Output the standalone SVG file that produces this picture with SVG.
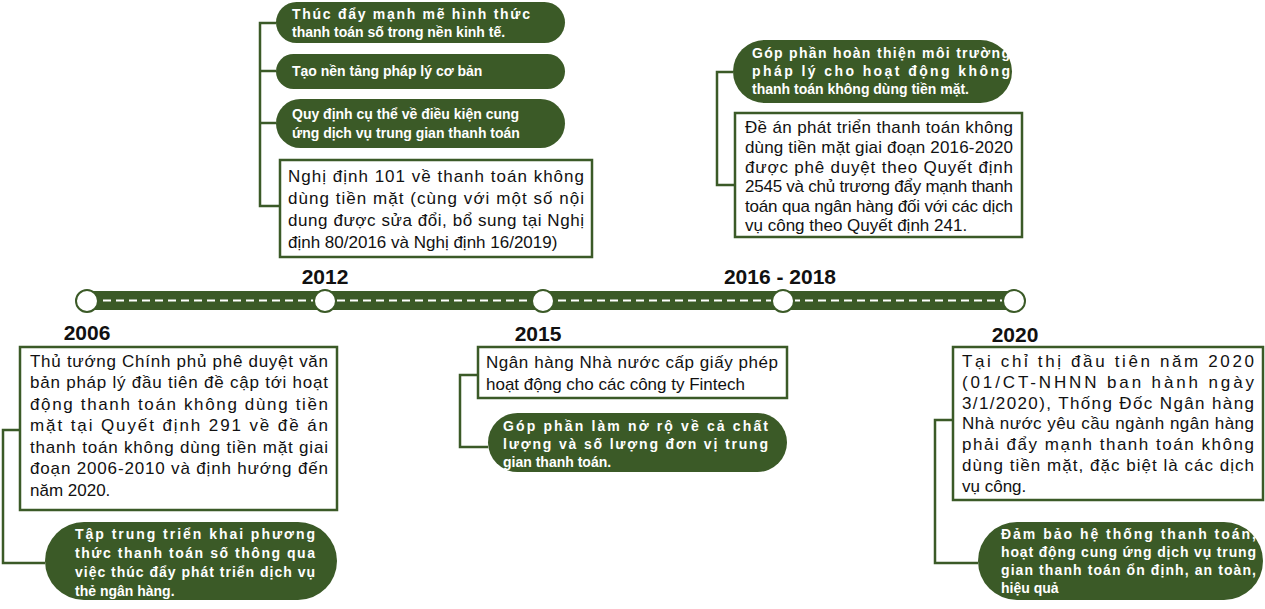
<svg xmlns="http://www.w3.org/2000/svg" width="1265" height="609" viewBox="0 0 1265 609">
<style>
.box{fill:#fff;stroke:#3b5a27;stroke-width:2.5}
.pill{fill:#3b5a27}
.t{font-family:"Liberation Sans",Arial,sans-serif;font-size:17px;fill:#111}
.p{font-family:"Liberation Sans",Arial,sans-serif;font-size:14px;font-weight:bold;fill:#fff}
.y{font-family:"Liberation Sans",Arial,sans-serif;font-size:21px;font-weight:bold;fill:#111;text-anchor:middle}
.c{fill:none;stroke:#3b5a27;stroke-width:2.5}
.dot{fill:#fff;stroke:#3b5a27;stroke-width:2}
</style>
<g id="timeline">
<rect x="85" y="291" width="930" height="19" fill="#3b5a27"/>
<line x1="90" y1="300.5" x2="1010" y2="300.5" stroke="#fff" stroke-width="2" stroke-dasharray="8,5"/>
<circle class="dot" cx="87" cy="301" r="11"/>
<circle class="dot" cx="325" cy="301" r="11"/>
<circle class="dot" cx="543" cy="301" r="11"/>
<circle class="dot" cx="783" cy="301" r="11"/>
<circle class="dot" cx="1014" cy="301" r="11"/>
<text class="y" x="325" y="284">2012</text>
<text class="y" x="87" y="340">2006</text>
<text class="y" x="538" y="341">2015</text>
<text class="y" x="780" y="284">2016 - 2018</text>
<text class="y" x="1015" y="342">2020</text>
</g>
<g id="connectors">
<polyline class="c" points="20,430 3,430 3,563 45,563"/>
<polyline class="c" points="276,23 260,23 260,206 280,206"/>
<line class="c" x1="260" y1="71" x2="276" y2="71"/>
<line class="c" x1="260" y1="123" x2="276" y2="123"/>
<polyline class="c" points="478,375 460,375 460,447 488,447"/>
<polyline class="c" points="733,72 717,72 717,185 735,185"/>
<polyline class="c" points="953,420 935,420 935,563 978,563"/>
</g>
<g id="n2006">
<rect class="box" x="20" y="347" width="317" height="163"/>
<text class="t"><tspan x="30" y="367" textLength="298" lengthAdjust="spacing">Thủ tướng Chính phủ phê duyệt văn</tspan><tspan x="30" y="388" textLength="298" lengthAdjust="spacing">bản pháp lý đầu tiên đề cập tới hoạt</tspan><tspan x="30" y="410" textLength="298" lengthAdjust="spacing">động thanh toán không dùng tiền</tspan><tspan x="30" y="431" textLength="298" lengthAdjust="spacing">mặt tại Quyết định 291 về đề án</tspan><tspan x="30" y="453" textLength="298" lengthAdjust="spacing">thanh toán không dùng tiền mặt giai</tspan><tspan x="30" y="474" textLength="298" lengthAdjust="spacing">đoạn 2006-2010 và định hướng đến</tspan><tspan x="30" y="496">năm 2020.</tspan></text>
</g>
<g id="n2006b">
<rect class="pill" x="45" y="522" width="292" height="78" rx="39"/>
<text class="p"><tspan x="75" y="539" textLength="240" lengthAdjust="spacing">Tập trung triển khai phương</tspan><tspan x="75" y="558" textLength="240" lengthAdjust="spacing">thức thanh toán số thông qua</tspan><tspan x="75" y="577" textLength="240" lengthAdjust="spacing">việc thúc đẩy phát triển dịch vụ</tspan><tspan x="75" y="596">thẻ ngân hàng.</tspan></text>
</g>
<g id="n2012a">
<rect class="pill" x="276" y="2" width="289" height="41" rx="20.5"/>
<text class="p"><tspan x="292" y="19" textLength="238" lengthAdjust="spacing">Thúc đẩy mạnh mẽ hình thức</tspan><tspan x="292" y="37">thanh toán số trong nền kinh tế.</tspan></text>
</g>
<g id="n2012b">
<rect class="pill" x="276" y="54" width="289" height="35" rx="17.5"/>
<text class="p" x="292" y="76">Tạo nền tảng pháp lý cơ bản</text>
</g>
<g id="n2012c">
<rect class="pill" x="276" y="99" width="289" height="49" rx="24.5"/>
<text class="p"><tspan x="292" y="119">Quy định cụ thể về điều kiện cung</tspan><tspan x="292" y="138">ứng dịch vụ trung gian thanh toán</tspan></text>
</g>
<g id="n2012d">
<rect class="box" x="280" y="160" width="312" height="97"/>
<text class="t"><tspan x="288" y="182" textLength="296" lengthAdjust="spacing">Nghị định 101 về thanh toán không</tspan><tspan x="288" y="204" textLength="296" lengthAdjust="spacing">dùng tiền mặt (cùng với một số nội</tspan><tspan x="288" y="226" textLength="296" lengthAdjust="spacing">dung được sửa đổi, bổ sung tại Nghị</tspan><tspan x="288" y="248">định 80/2016 và Nghị định 16/2019)</tspan></text>
</g>
<g id="n2015a">
<rect class="box" x="478" y="347" width="309" height="51"/>
<text class="t"><tspan x="486" y="368" textLength="292" lengthAdjust="spacing">Ngân hàng Nhà nước cấp giấy phép</tspan><tspan x="486" y="390">hoạt động cho các công ty Fintech</tspan></text>
</g>
<g id="n2015b">
<rect class="pill" x="488" y="413" width="299" height="59" rx="29.5"/>
<text class="p"><tspan x="503" y="431" textLength="265" lengthAdjust="spacing">Góp phần làm nở rộ về cả chất</tspan><tspan x="503" y="449" textLength="265" lengthAdjust="spacing">lượng và số lượng đơn vị trung</tspan><tspan x="503" y="467">gian thanh toán.</tspan></text>
</g>
<g id="n2016a">
<rect class="pill" x="733" y="40" width="279" height="63" rx="31.5"/>
<text class="p"><tspan x="752" y="58" textLength="258" lengthAdjust="spacing">Góp phần hoàn thiện môi trường</tspan><tspan x="752" y="76" textLength="258" lengthAdjust="spacing">pháp lý cho hoạt động không</tspan><tspan x="752" y="94">thanh toán không dùng tiền mặt.</tspan></text>
</g>
<g id="n2016b">
<rect class="box" x="735" y="113" width="287" height="124"/>
<text class="t"><tspan x="745" y="133" textLength="268" lengthAdjust="spacing">Đề án phát triển thanh toán không</tspan><tspan x="745" y="153" textLength="268" lengthAdjust="spacing">dùng tiền mặt giai đoạn 2016-2020</tspan><tspan x="745" y="173" textLength="268" lengthAdjust="spacing">được phê duyệt theo Quyết định</tspan><tspan x="745" y="192" textLength="268" lengthAdjust="spacing">2545 và chủ trương đẩy mạnh thanh</tspan><tspan x="745" y="212" textLength="268" lengthAdjust="spacing">toán qua ngân hàng đối với các dịch</tspan><tspan x="745" y="231">vụ công theo Quyết định 241.</tspan></text>
</g>
<g id="n2020a">
<rect class="box" x="953" y="347" width="310" height="153"/>
<text class="t"><tspan x="962" y="367" textLength="292" lengthAdjust="spacing">Tại chỉ thị đầu tiên năm 2020</tspan><tspan x="962" y="388" textLength="292" lengthAdjust="spacing">(01/CT-NHNN ban hành ngày</tspan><tspan x="962" y="409" textLength="292" lengthAdjust="spacing">3/1/2020), Thống Đốc Ngân hàng</tspan><tspan x="962" y="429" textLength="292" lengthAdjust="spacing">Nhà nước yêu cầu ngành ngân hàng</tspan><tspan x="962" y="450" textLength="292" lengthAdjust="spacing">phải đẩy mạnh thanh toán không</tspan><tspan x="962" y="471" textLength="292" lengthAdjust="spacing">dùng tiền mặt, đặc biệt là các dịch</tspan><tspan x="962" y="492">vụ công.</tspan></text>
</g>
<g id="n2020b">
<rect class="pill" x="978" y="522" width="285" height="78" rx="39"/>
<text class="p"><tspan x="1001" y="539" textLength="255" lengthAdjust="spacing">Đảm bảo hệ thống thanh toán,</tspan><tspan x="1001" y="557" textLength="255" lengthAdjust="spacing">hoạt động cung ứng dịch vụ trung</tspan><tspan x="1001" y="575" textLength="255" lengthAdjust="spacing">gian thanh toán ổn định, an toàn,</tspan><tspan x="1001" y="593">hiệu quả</tspan></text>
</g>
</svg>
